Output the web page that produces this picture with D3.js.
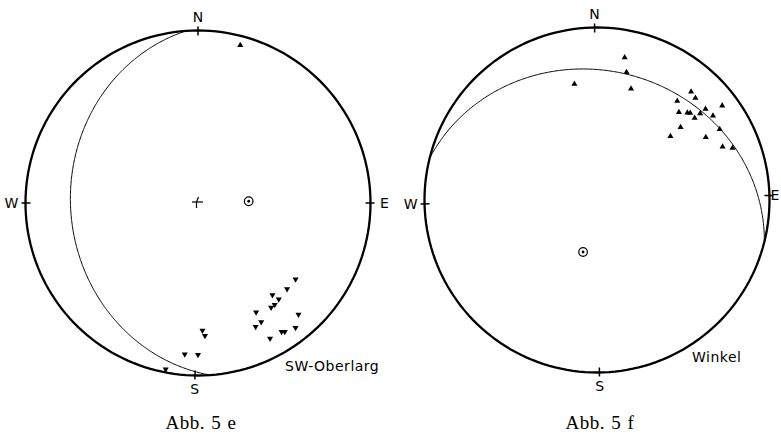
<!DOCTYPE html>
<html><head><meta charset="utf-8">
<script src="https://cdn.jsdelivr.net/npm/d3@7"></script>
<style>body{margin:0;background:#fff}svg{display:block}</style>
</head><body>
<svg id="c" width="781" height="434"></svg>
<script>
// ---- DATA (lower-hemisphere equal-area net; [trend°, plunge°]) ----
const leftLineationsDown = [[178,27],[177,24],[185,13],[180,13],[191,2],
  [128,29],[134,29],[141,32],[140,28],[143,27],[145,27],[152,29],[138,14],
  [152,23],[155,22],[147,12],[146,11],[142,9],[152,12]];
const leftLineationsUp = [[15,6]];
const leftPlane = [266, 27];      // [dip direction, dip]
const leftPole = [88, 66];        // β / pole [trend, plunge]
const rightLineations = [[11,17],[13,25],[17,33],[349,32],[41,18],[44,19],[39,27],
  [53,10],[50,19],[46,28],[47,27],[50,23],[50,27],[54,18],[43,31],[49,36],[49,43],
  [60,28],[60,19],[67,22],[69,17]];
const rightPlane = [14, 26];
const rightPole = [195, 64.5];
const cardinalLabels = ["N","E","S","W"];
const leftCardinalTrends = [0, 90, 181, 270];
const rightCardinalTrends = [-0.8, 88.5, 179.2, 268.7];
const titles = ["Abb. 5 e", "Abb. 5 f"];
const localities = ["SW-Oberlarg", "Winkel"];

// ---- LAYOUT ----
const W = 781;
const svg = d3.select("#c");
const R = 172.5;
const nets = [
  {cx:198, cy:203, down:leftLineationsDown, up:leftLineationsUp, plane:leftPlane, pole:leftPole,
   ticks:leftCardinalTrends, title:titles[0], titleX:201, loc:localities[0], locX:285, locY:371, centerMark:true},
  {cx:597, cy:200, down:[], up:rightLineations, plane:rightPlane, pole:rightPole,
   ticks:rightCardinalTrends, title:titles[1], titleX:600, loc:localities[1], locX:692, locY:362, centerMark:false}
];
const toGeo = ([t, p]) => [180 - t, p];
const labelFont = "'DejaVu Sans', sans-serif";

nets.forEach(n => {
  const proj = d3.geoAzimuthalEqualArea()
    .rotate([0, -90]).scale(R / Math.SQRT2).translate([n.cx, n.cy])
    .clipAngle(90).precision(0.1);
  const path = d3.geoPath(proj);
  const g = svg.append("g");

  // primitive circle
  g.append("path").datum({type:"Sphere"}).attr("d", path)
    .attr("fill","none").attr("stroke","#000").attr("stroke-width",2.3);

  // great circle of the plane
  const [dd, dip] = n.plane;
  const circ = d3.geoCircle().center(toGeo([dd + 180, 90 - dip])).radius(90).precision(0.5)();
  g.append("path").datum({type:"LineString", coordinates: circ.coordinates[0]})
    .attr("d", path).attr("fill","none").attr("stroke","#000").attr("stroke-width",1);

  // cardinal ticks + labels
  n.ticks.forEach((t, i) => {
    const [px, py] = proj(toGeo([t, 0]));
    const ux = (px - n.cx) / R, uy = (py - n.cy) / R;
    g.append("line")
      .attr("x1", n.cx + ux * (R - 5)).attr("y1", n.cy + uy * (R - 5))
      .attr("x2", n.cx + ux * (R + 4)).attr("y2", n.cy + uy * (R + 4))
      .attr("stroke","#000").attr("stroke-width",1.5);
    const lx = Math.min(n.cx + ux * (R + 14), W - 6);
    g.append("text").text(cardinalLabels[i])
      .attr("x", lx).attr("y", n.cy + uy * (R + 14))
      .attr("text-anchor","middle").attr("dominant-baseline","central")
      .attr("font-family", labelFont).attr("font-size", 14).attr("fill","#000");
  });

  // lineations
  const tri = d3.symbol(d3.symbolTriangle, 16);
  g.selectAll(null).data(n.down).join("path").attr("d", tri)
    .attr("transform", d => { const [x,y] = proj(toGeo(d)); return `translate(${x},${y}) rotate(180)`; })
    .attr("fill","#000");
  g.selectAll(null).data(n.up).join("path").attr("d", tri)
    .attr("transform", d => { const [x,y] = proj(toGeo(d)); return `translate(${x},${y})`; })
    .attr("fill","#000");

  // pole marker
  const [qx, qy] = proj(toGeo(n.pole));
  g.append("circle").attr("cx", qx).attr("cy", qy).attr("r", 4.3)
    .attr("fill","none").attr("stroke","#000").attr("stroke-width",1.2);
  g.append("circle").attr("cx", qx).attr("cy", qy).attr("r", 1.4).attr("fill","#000");

  // centre mark
  if (n.centerMark) {
    const [cx0, cy0] = proj(toGeo([0, 90]));
    g.append("line").attr("x1", cx0 - 6).attr("y1", cy0 - 1).attr("x2", cx0 + 5).attr("y2", cy0 - 1)
      .attr("stroke","#000").attr("stroke-width",1.2);
    g.append("path").attr("d", `M${cx0 - 1.5},${cy0 + 5}L${cx0 - 1.5},${cy0 - 1}L${cx0 + 0.5},${cy0 - 6}`)
      .attr("fill","none").attr("stroke","#000").attr("stroke-width",1.2);
  }

  // locality
  g.append("text").text(n.loc).attr("x", n.locX).attr("y", n.locY)
    .attr("font-family", labelFont).attr("font-size", 14).attr("letter-spacing", 0.5).attr("fill","#000");

  // title
  g.append("text").text(n.title).attr("x", n.titleX).attr("y", 429)
    .attr("text-anchor","middle")
    .attr("font-family", "'Liberation Serif', 'DejaVu Serif', serif").attr("font-size", 19)
    .attr("letter-spacing", 0.5).attr("word-spacing", 1).attr("fill","#000");
});
</script>
</body></html>
